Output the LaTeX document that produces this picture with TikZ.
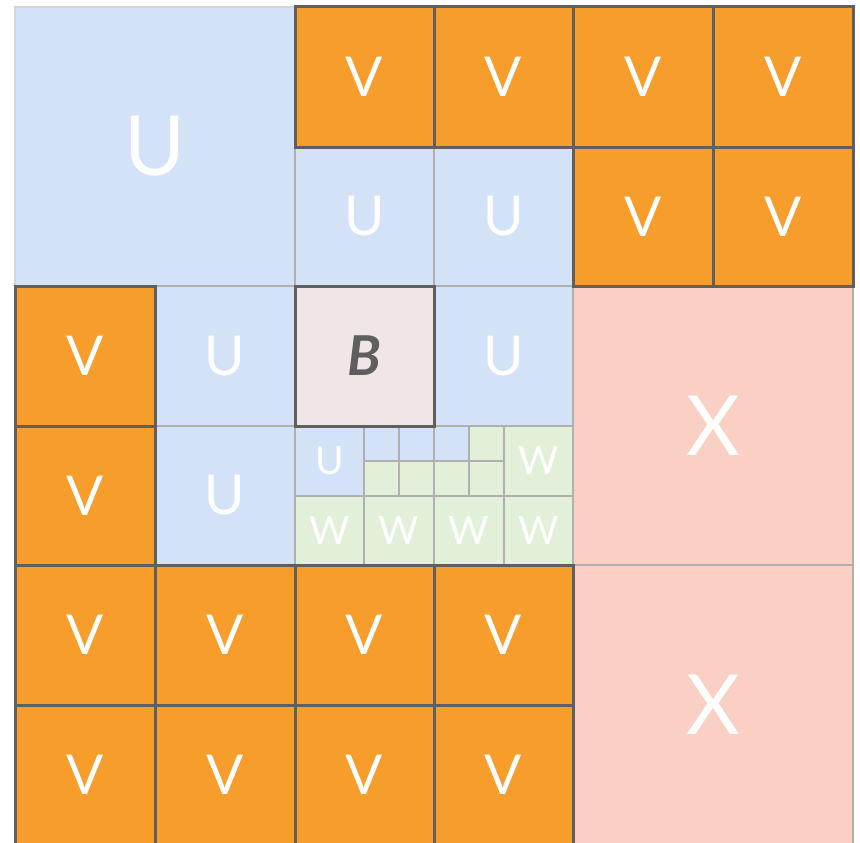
\documentclass[tikz,border=0pt]{standalone}
\usepackage{fontspec}
\setmainfont{Lato}
\definecolor{vor}{HTML}{F79D2B}
\definecolor{ubl}{HTML}{D3E2F6}
\definecolor{wgr}{HTML}{E3F0D9}
\definecolor{xpk}{HTML}{FAD0C4}
\definecolor{bpk}{HTML}{F0E6E6}
\definecolor{dk}{HTML}{5F5F5F}
\definecolor{lg}{HTML}{B0B0B0}
\definecolor{lgl}{HTML}{D4D4D4}
\newcommand\cellnode[7]{\node[#1, minimum width={(#5-#3)*1pt}, minimum height={(#6-#4)*1pt}] (#2) at ({(#3+#5)/2},{(#4+#6)/2}) {#7};}
\begin{document}
\begin{tikzpicture}[x=1pt,y=-1pt,
 cellbase/.style={rectangle, inner sep=0pt, outer sep=0pt, text=white},
 ucell/.style={cellbase, fill=ubl, draw=lg, line width=2pt},
 wcell/.style={cellbase, fill=wgr, draw=lg, line width=2pt},
 xcell/.style={cellbase, fill=xpk, draw=lg, line width=2pt},
 vcell/.style={cellbase, fill=vor, draw=dk, line width=3pt},
 bcell/.style={cellbase, fill=bpk, draw=dk, line width=3pt, text=dk},
 bigtxt/.style={font=\fontsize{83}{83}\selectfont},
 midtxt/.style={font=\fontsize{55}{55}\selectfont},
 smalltxt/.style={font=\fontsize{39}{39}\selectfont},
]
\useasboundingbox (0,0) rectangle (860,843);
\clip (0,0) rectangle (860,843);
% big U
\cellnode{ucell,draw=lgl,bigtxt}{ubig}{15}{7}{295}{286}{U}
% U cells
\cellnode{ucell,midtxt}{u1}{295}{147}{434}{286}{U}
\cellnode{ucell,midtxt}{u2}{434}{147}{573}{286}{U}
\cellnode{ucell,midtxt}{u3}{155}{286}{295}{426}{U}
\cellnode{ucell,midtxt}{u4}{434}{286}{573}{426}{U}
\cellnode{ucell,midtxt}{u5}{155}{426}{295}{565}{U}
% small area
\cellnode{ucell,smalltxt}{us}{295}{426}{364}{496}{U}
\cellnode{ucell}{q1}{364}{426}{399}{461}{}
\cellnode{ucell}{q2}{399}{426}{434}{461}{}
\cellnode{ucell}{q3}{434}{426}{469}{461}{}
\cellnode{wcell}{q4}{469}{426}{504}{461}{}
\cellnode{wcell}{q5}{364}{461}{399}{496}{}
\cellnode{wcell}{q6}{399}{461}{434}{496}{}
\cellnode{wcell}{q7}{434}{461}{469}{496}{}
\cellnode{wcell}{q8}{469}{461}{504}{496}{}
\cellnode{wcell,smalltxt}{w1}{504}{426}{573}{496}{W}
\cellnode{wcell,smalltxt}{w2}{295}{496}{364}{565}{W}
\cellnode{wcell,smalltxt}{w3}{364}{496}{434}{565}{W}
\cellnode{wcell,smalltxt}{w4}{434}{496}{504}{565}{W}
\cellnode{wcell,smalltxt}{w5}{504}{496}{573}{565}{W}
% X cells
\cellnode{xcell,bigtxt}{x1}{573}{286}{853}{565}{X}
\cellnode{xcell,bigtxt}{x2}{573}{565}{853}{845}{X}
% V cells
\cellnode{vcell,midtxt}{v1}{295}{7}{434}{147}{V}
\cellnode{vcell,midtxt}{v2}{434}{7}{573}{147}{V}
\cellnode{vcell,midtxt}{v3}{573}{7}{713}{147}{V}
\cellnode{vcell,midtxt}{v4}{713}{7}{853}{147}{V}
\cellnode{vcell,midtxt}{v5}{573}{147}{713}{286}{V}
\cellnode{vcell,midtxt}{v6}{713}{147}{853}{286}{V}
\cellnode{vcell,midtxt}{v7}{15}{286}{155}{426}{V}
\cellnode{vcell,midtxt}{v8}{15}{426}{155}{565}{V}
\cellnode{vcell,midtxt}{v9}{15}{565}{155}{705}{V}
\cellnode{vcell,midtxt}{v10}{155}{565}{295}{705}{V}
\cellnode{vcell,midtxt}{v11}{295}{565}{434}{705}{V}
\cellnode{vcell,midtxt}{v12}{434}{565}{573}{705}{V}
\cellnode{vcell,midtxt}{v13}{15}{705}{155}{845}{V}
\cellnode{vcell,midtxt}{v14}{155}{705}{295}{845}{V}
\cellnode{vcell,midtxt}{v15}{295}{705}{434}{845}{V}
\cellnode{vcell,midtxt}{v16}{434}{705}{573}{845}{V}
% B
\cellnode{bcell,midtxt}{b}{295}{286}{434}{426}{\bfseries\itshape B}
\end{tikzpicture}
\end{document}
